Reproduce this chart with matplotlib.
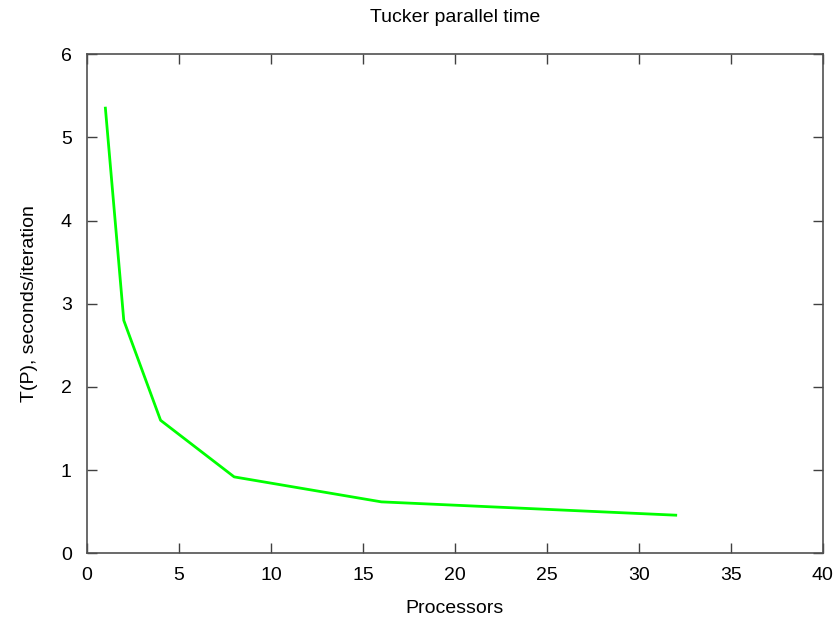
import matplotlib
matplotlib.use('Agg')
import matplotlib.pyplot as plt

# Tucker parallel timings
processors = [1, 2, 4, 8, 16, 32]
time_per_iter = [5.35, 2.80, 1.60, 0.92, 0.62, 0.46]

x_ticks = [0, 5, 10, 15, 20, 25, 30, 35, 40]
y_ticks = [0, 1, 2, 3, 4, 5, 6]

plt.rcParams['font.family'] = ['Liberation Sans', 'DejaVu Sans']

fig = plt.figure(figsize=(8.38, 6.23), dpi=100)
ax = fig.add_axes([0.1038, 0.1116, 0.8782, 0.8017])

ax.plot(processors, time_per_iter, color='#00ff00', linewidth=2)

ax.set_xlim(0, 40)
ax.set_ylim(0, 6)
ax.set_xticks(x_ticks)
ax.set_yticks(y_ticks)
ax.tick_params(direction='in', top=True, right=True, length=7, width=1,
               color='#404040', labelsize=14)
ax.tick_params(axis='x', pad=10)
ax.tick_params(axis='y', pad=11)
for spine in ax.spines.values():
    spine.set_color('#505050')
    spine.set_linewidth(1.2)

ax.set_xlabel('Processors', fontsize=14, va='center')
ax.xaxis.set_label_coords(0.5, -0.11)
ax.set_ylabel('T(P), seconds/iteration', fontsize=14, va='center')
ax.yaxis.set_label_coords(-0.0775, 0.5)
fig.text(0.543, 1 - 17 / 623, 'Tucker parallel time', ha='center', va='center', fontsize=14)

fig.savefig('out.png', dpi=100, facecolor='white')
